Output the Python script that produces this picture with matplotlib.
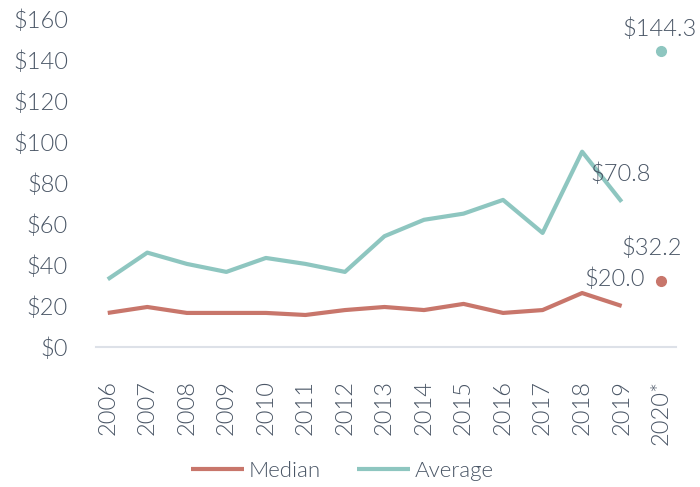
import matplotlib
matplotlib.use('Agg')
import matplotlib.pyplot as plt

plt.rcParams['font.family'] = ['Lato', 'DejaVu Sans']
plt.rcParams['font.weight'] = 300

years = ['2006', '2007', '2008', '2009', '2010', '2011', '2012', '2013',
         '2014', '2015', '2016', '2017', '2018', '2019', '2020*']
median = [16.6, 19.5, 16.6, 16.6, 16.6, 15.6, 18.0, 19.5, 18.0, 21.0,
          16.6, 18.0, 26.3, 20.0]
average = [33.0, 46.0, 40.5, 36.6, 43.4, 40.5, 36.6, 54.0, 62.0, 65.0,
           71.7, 55.6, 95.2, 70.8]
median_2020 = 32.2
average_2020 = 144.3
yticks = [0, 20, 40, 60, 80, 100, 120, 140, 160]

red = '#c8766b'
teal = '#8ec6c0'
txt = '#4a5666'

fig = plt.figure(figsize=(7, 4.87), dpi=100)
ax = fig.add_axes([0.137, 0.2875, 0.829, 0.674])

x = list(range(len(median)))
ax.plot(x, median, color=red, lw=3, label='Median', solid_capstyle='butt')
ax.plot(x, average, color=teal, lw=3, label='Average', solid_capstyle='butt')
ax.plot([14], [median_2020], 'o', color=red, ms=7)
ax.plot([14], [average_2020], 'o', color=teal, ms=7)

fs = 17
ax.text(13.95, average_2020 + 11, '$%.1f' % average_2020, ha='center', va='center',
        fontsize=fs, color=txt)
ax.text(12.2, 84.5, '$%.1f' % average[-1], ha='left', va='center',
        fontsize=fs, color=txt)
ax.text(13.0, 48.3, '$%.1f' % median_2020, ha='left', va='center',
        fontsize=fs, color=txt)
ax.text(12.05, 33.2, '$%.1f' % median[-1], ha='left', va='center',
        fontsize=fs, color=txt)

ax.set_xlim(-0.3, 14.38)
ax.set_ylim(0, 160)
ax.set_xticks(range(len(years)))
ax.set_xticklabels(years, rotation=90, fontsize=fs, color=txt)
ax.set_yticks(yticks)
ax.set_yticklabels(['$%d' % v for v in yticks], fontsize=fs, color=txt)
ax.tick_params(axis='x', length=0, pad=24)
ax.tick_params(axis='y', length=0, pad=20)
for s in ['top', 'right', 'left']:
    ax.spines[s].set_visible(False)
ax.spines['bottom'].set_color('#dde1e8')
ax.spines['bottom'].set_linewidth(1.5)

leg = fig.legend(loc='center', bbox_to_anchor=(0.489, 0.033), ncol=2, frameon=False,
                 fontsize=16, handlelength=2.4, handletextpad=0.23, columnspacing=1.6)
for t in leg.get_texts():
    t.set_color(txt)

fig.savefig('out.png', dpi=100)
